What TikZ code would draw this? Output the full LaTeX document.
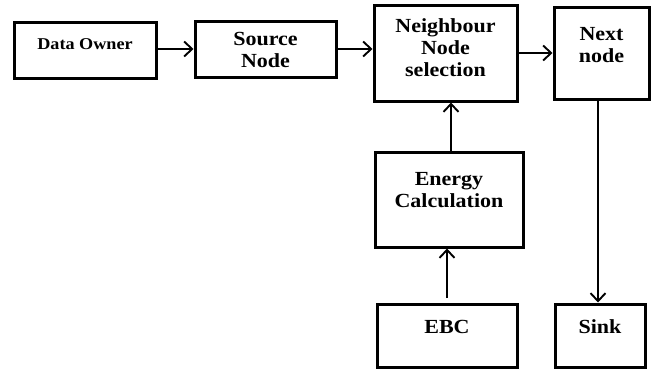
\documentclass[tikz,border=0pt]{standalone}
\usepackage{fontspec}
\setmainfont{Liberation Serif}
\newfontfamily\lblfont[FakeStretch=1.1]{Liberation Serif}
\usetikzlibrary{arrows.meta}
\begin{document}
\begin{tikzpicture}[x=1pt,y=-1pt,
  box/.style={draw, line width=3pt, inner sep=0pt},
  lbl/.style={align=center, inner sep=0pt,
    font=\lblfont\bfseries\fontsize{20}{22}\selectfont},
  flow/.style={line width=1.9pt, -{Straight Barb[length=8pt,width=15pt,line width=1.9pt]}}]
\useasboundingbox (0,0) rectangle (658,369);

% boxes
\node[box, minimum width=142pt, minimum height=55pt] (owner)  at (85,50.5)   {};
\node[box, minimum width=141pt, minimum height=55pt] (source) at (265.5,49.5) {};
\node[box, minimum width=143pt, minimum height=95pt] (neigh)  at (445.5,53.5) {};
\node[box, minimum width=95pt,  minimum height=91pt] (next)   at (601.5,53.5) {};
\node[box, minimum width=148pt, minimum height=95pt] (energy) at (449,199.5)  {};
\node[box, minimum width=140pt, minimum height=63pt] (ebc)    at (447,335.5)  {};
\node[box, minimum width=90pt,  minimum height=63pt] (sink)   at (600,335.5)  {};

% labels
\node[lbl, font=\lblfont\bfseries\fontsize{16.5}{19}\selectfont] (towner) at (85,44) {Data Owner};
\node[lbl] (tsource) at (265.5,50) {Source\\Node};
\node[lbl] (tneigh)  at (445.5,47.5) {Neighbour\\Node\\selection};
\node[lbl] (tnext)   at (601.5,45) {Next\\node};
\node[lbl] (tenergy) at (449,190) {Energy\\Calculation};
\node[lbl] (tebc)    at (447,327) {EBC};
\node[lbl] (tsink)   at (600,327) {Sink};

% connectors
\draw[flow] (owner.east |- 0,49) -- (source.west |- 0,49);
\draw[flow] (source.east |- 0,49) -- (neigh.west |- 0,49);
\draw[flow] (neigh.east |- 0,53) -- (next.west |- 0,53);
\draw[flow] (energy.north -| 451,0) -- (neigh.south -| 451,0);
\coordinate (ebcTop) at (447,298);
\draw[flow] (ebcTop) -- (energy.south -| 447,0);
\draw[flow] (next.south -| 598,0) -- (sink.north -| 598,0);
\end{tikzpicture}
\end{document}
